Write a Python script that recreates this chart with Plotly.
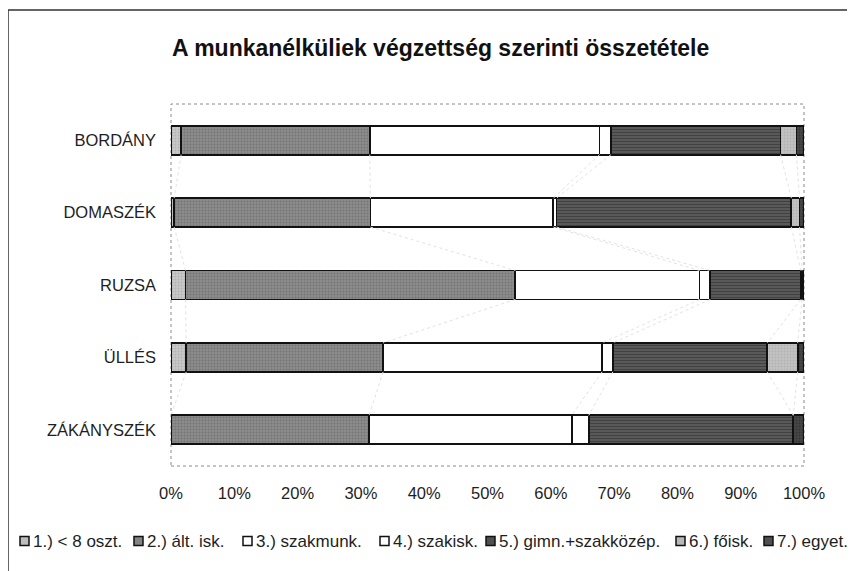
import plotly.graph_objects as go

# ---- data (percent of unemployed by education level) ----
categories = ["BORDÁNY", "DOMASZÉK", "RUZSA", "ÜLLÉS", "ZÁKÁNYSZÉK"]
series_names = ["1.) < 8 oszt.", "2.) ált. isk.", "3.) szakmunk.", "4.) szakisk.",
                "5.) gimn.+szakközép.", "6.) főisk.", "7.) egyet."]
s1 = [1.6, 0.5, 2.3, 2.4, 0.0]
s2 = [29.8, 31.0, 52.1, 31.1, 31.3]
s3 = [36.3, 28.9, 29.1, 34.6, 32.0]
s4 = [1.8, 0.5, 1.7, 1.7, 2.7]
s5 = [26.8, 37.1, 14.3, 24.4, 32.3]
s6 = [2.5, 1.3, 0.2, 4.8, 0.0]
s7 = [1.2, 0.7, 0.3, 1.0, 1.7]
x_ticks = [0, 10, 20, 30, 40, 50, 60, 70, 80, 90, 100]
x_tick_labels = ["0%", "10%", "20%", "30%", "40%", "50%", "60%", "70%", "80%", "90%", "100%"]
title_text = "A munkanélküliek végzettség szerinti összetétele"

series = [s1, s2, s3, s4, s5, s6, s7]

# ---- styles (grayscale print look) ----
styles = [
    dict(bg="#c8c8c8", fg="#9c9c9c", shape=".", size=3, sol=0.3),
    dict(bg="#8c8c8c", fg="#5e5e5e", shape=".", size=3, sol=0.35),
    dict(bg="#ffffff", fg="#ffffff", shape="", size=3, sol=0.3),
    dict(bg="#ffffff", fg="#ffffff", shape="", size=3, sol=0.3),
    dict(bg="#595959", fg="#2a2a2a", shape="-", size=3, sol=0.35),
    dict(bg="#c2c2c2", fg="#a0a0a0", shape=".", size=3, sol=0.3),
    dict(bg="#474747", fg="#222222", shape=".", size=3, sol=0.35),
]
legend_fill = ["#bdbdbd", "#848484", "#ffffff", "#ffffff", "#505050", "#b8b8b8", "#505050"]

FONT = "Liberation Sans, Arial, sans-serif"
TXT = "#1e1e1e"
BAR_W = 0.4

ypos = list(range(len(categories) - 1, -1, -1))  # top-to-bottom order

fig = go.Figure()

# faint series lines between adjacent bars
cum = [[0.0] * len(categories)]
for s in series:
    cum.append([a + b for a, b in zip(cum[-1], s)])
lx, ly = [], []
for k in range(1, len(series)):
    for i in range(len(categories) - 1):
        lx += [cum[k][i], cum[k][i + 1], None]
        ly += [ypos[i] - BAR_W / 2, ypos[i + 1] + BAR_W / 2, None]
fig.add_trace(go.Scatter(x=lx, y=ly, mode="lines", showlegend=False, hoverinfo="skip",
                         line=dict(color="#e2e2e2", width=1, dash="dot")))

for name, vals, st in zip(series_names, series, styles):
    fig.add_trace(go.Bar(
        x=vals, y=ypos, orientation="h", name=name, width=BAR_W,
        marker=dict(
            color=st["bg"],
            line=dict(color="#111111", width=1.8),
            pattern=dict(shape=st["shape"], bgcolor=st["bg"], fgcolor=st["fg"],
                         size=st["size"], solidity=st["sol"], fillmode="overlay"),
        ),
        showlegend=False,
    ))

# page has an 8px body margin: work in page pixels and convert
OFF = 8
W_FIG, H_FIG = 855, 571
PL, PR, PT, PB = 171, 804, 104, 466          # plot area in page pixels
L, R, T, B = PL - OFF, PR - OFF, PT - OFF, PB - OFF  # in figure pixels

def px_x(p):
    return (p - PL) / (PR - PL)
def px_y(p):
    return (PB - p) / (PB - PT)

shapes = []
annotations = []

# plot-area border (dotted gray)
shapes.append(dict(type="rect", xref="paper", yref="paper", x0=0, x1=1, y0=0, y1=1,
                   line=dict(color="#8a8a8a", width=1, dash="dot"), layer="below"))
# outer frame (left and top edges visible)
shapes.append(dict(type="path", xref="paper", yref="paper",
                   path=f"M {px_x(8)},{px_y(620)} L {px_x(8)},{px_y(10)} L {px_x(900)},{px_y(10)}",
                   line=dict(color="#333333", width=1.5)))

# title
annotations.append(dict(text=title_text, xref="paper", yref="paper", x=px_x(440), y=px_y(48),
                        xanchor="center", yanchor="middle", showarrow=False,
                        font=dict(family=FONT, size=23, color="#111111", weight="bold")))

# custom legend
leg_sq = [20, 134, 243, 380, 486, 676, 764]
leg_y = 541
for xs, name, fill in zip(leg_sq, series_names, legend_fill):
    shapes.append(dict(type="rect", xref="paper", yref="paper",
                       x0=px_x(xs), x1=px_x(xs + 9), y0=px_y(leg_y - 4.5), y1=px_y(leg_y + 4.5),
                       fillcolor=fill, line=dict(color="#111111", width=1.5)))
    annotations.append(dict(text=name, xref="paper", yref="paper", x=px_x(xs + 11), y=px_y(leg_y),
                            xanchor="left", yanchor="middle", showarrow=False,
                            font=dict(family=FONT, size=17, color=TXT)))

fig.update_layout(
    width=W_FIG, height=H_FIG,
    margin=dict(l=L, r=W_FIG - R, t=T, b=H_FIG - B, pad=0),
    barmode="stack",
    paper_bgcolor="white", plot_bgcolor="white",
    font=dict(family=FONT, size=16.5, color=TXT),
    showlegend=False,
    shapes=shapes, annotations=annotations,
    xaxis=dict(range=[0, 100], tickvals=x_ticks, ticktext=x_tick_labels, showgrid=False,
               zeroline=False, showline=False, ticks="", ticklabelstandoff=15,
               tickfont=dict(family=FONT, size=16.5, color=TXT)),
    yaxis=dict(range=[-0.5, len(categories) - 0.5], tickvals=ypos, ticktext=categories,
               showgrid=False, zeroline=False, showline=False, ticks="", ticklabelstandoff=14,
               tickfont=dict(family=FONT, size=16.5, color=TXT)),
)

fig.write_html("out.html")
